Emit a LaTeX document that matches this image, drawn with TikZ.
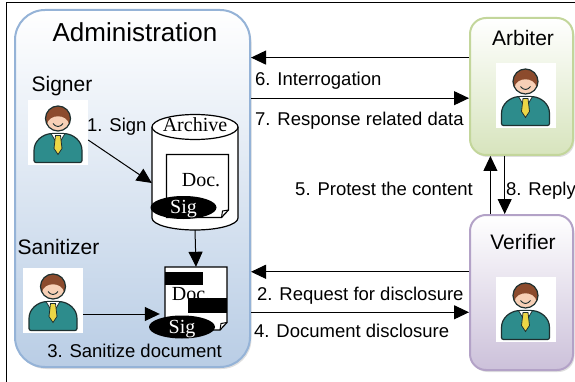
\documentclass[tikz,border=0pt]{standalone}
\usepackage{fontspec}
\setmainfont{Liberation Serif}
\setsansfont{Liberation Sans}
\usepackage{tikz}
\usetikzlibrary{shapes,arrows.meta,positioning,calc,shadows}

\definecolor{adminline}{RGB}{149,179,215}
\definecolor{adminfill}{RGB}{185,205,229}
\definecolor{arbline}{RGB}{195,214,155}
\definecolor{arbfill}{RGB}{215,228,189}
\definecolor{verline}{RGB}{179,162,199}
\definecolor{verfill}{RGB}{204,193,218}
\definecolor{skin}{RGB}{247,208,182}
\definecolor{hair}{RGB}{140,75,45}
\definecolor{suit}{RGB}{45,140,140}
\definecolor{tie}{RGB}{236,214,70}
\definecolor{outline}{RGB}{30,48,48}

\tikzstyle{panel} = [draw, line width=2pt, inner sep=0pt, drop shadow={shadow xshift=1.5pt, shadow yshift=-2pt, opacity=0.25}]
\tikzstyle{adminbox} = [panel, draw=adminline, top color=white, bottom color=adminfill, rounded corners=30pt, minimum width=235pt, minimum height=357pt]
\tikzstyle{arbbox} = [panel, draw=arbline, top color=white, bottom color=arbfill, rounded corners=16pt, minimum width=103pt, minimum height=137pt]
\tikzstyle{verbox} = [panel, draw=verline, top color=white, bottom color=verfill, rounded corners=16pt, minimum width=103pt, minimum height=155pt]
\tikzstyle{icon} = [rectangle, fill=white, minimum width=60pt, minimum height=65pt, inner sep=0pt]
\tikzstyle{pagebox} = [rectangle, minimum width=62pt, minimum height=63pt, inner sep=0pt]
\tikzstyle{sig} = [ellipse, fill=black, text=white, minimum width=66pt, minimum height=23pt, inner sep=0pt, text height=12pt, text depth=0pt, font=\rmfamily\fontsize{20}{20}\selectfont]
\tikzstyle{serif} = [inner sep=0pt, font=\rmfamily\fontsize{20}{22}\selectfont]
\tikzstyle{lbl} = [inner sep=0pt, font=\sffamily\fontsize{18.5}{20}\selectfont]
\tikzstyle{title} = [inner sep=0pt, text height=15.5pt, text depth=4.4pt, font=\sffamily\fontsize{21}{24}\selectfont]
\tikzstyle{bigtitle} = [inner sep=0pt, text height=19.5pt, text depth=5.2pt, font=\sffamily\fontsize{26}{30}\selectfont]
\tikzstyle{flow} = [draw, line width=1pt, -{Triangle[length=15pt, width=14pt]}]

\tikzset{
  % little man with a tie
  person/.pic={
    \filldraw[fill=suit, draw=outline, line width=1.2pt, rounded corners=2pt]
      (-24,30) -- (-24,20) .. controls (-24,8) and (-15,2) .. (-6,1)
      -- (6,1) .. controls (15,2) and (24,8) .. (24,20) -- (24,30) -- cycle;
    \filldraw[fill=white, draw=outline, line width=0.8pt] (-7,1) -- (0,13) -- (7,1) -- cycle;
    \filldraw[fill=tie, draw=outline, line width=0.8pt] (-2.5,3) -- (2.5,3) -- (4,16) -- (0,22) -- (-4,16) -- cycle;
    \fill[skin] (0,-14) circle (12.5);
    \begin{scope}
      \clip (0,-14) circle (12.5);
      \fill[hair] (-14,-8) -- (-14,-28) -- (14,-28) -- (14,-8) -- (11,-8)
        .. controls (10,-19) and (-10,-19) .. (-11,-8) -- cycle;
    \end{scope}
    \draw[outline, line width=1.2pt] (0,-14) circle (12.5);
    \draw[outline, line width=0.9pt] (-5,-9) .. controls (-2,-5) and (2,-5) .. (5,-9);
  },
  % sheet with a folded corner
  page/.pic={
    \filldraw[fill=white, line width=1.2pt] (-31,-31.5) -- (31,-31.5) -- (31,24) -- (24,31.5) -- (-31,31.5) -- cycle;
    \draw[line width=1pt] (24,31.5) -- (25,25) -- (31,24);
  }
}

\begin{document}
\begin{tikzpicture}[x=1pt, y=-1pt]
\useasboundingbox (0,0) rectangle (575,382);
\clip (0,0) rectangle (575,382);
\draw[line width=1pt] (6,3) rectangle (600,400);

% panels =============================
\node[adminbox] (admin) at (132.5,188.5) {};
\node[arbbox] (arbiter) at (521.5,86.5) {};
\node[verbox] (verifier) at (521.5,292.5) {};

\node[bigtitle, below=12.5pt of admin.north, xshift=2.5pt] (admintitle) {Administration};
\node[title, below=12.5pt of arbiter.north, xshift=1.5pt] (arbtitle) {Arbiter};
\node[title, below=19.5pt of verifier.north, xshift=1.5pt] (vertitle) {Verifier};

% people
\node[icon] (signer) at (58,132.5) {};
\pic at (signer) {person};
\node[title, above=3.6pt of signer, xshift=4pt] (signertitle) {Signer};

\node[icon] (sanitizer) at (53,300.5) {};
\pic at (sanitizer) {person};
\node[title, above=8.6pt of sanitizer, xshift=5.5pt] (sanitizertitle) {Sanitizer};

\node[icon] (judge) at (525.5,95.5) {};
\pic at (judge) {person};
\node[icon] (checker) at (525.5,309.5) {};
\pic at (checker) {person};

% archive with the signed document
\node[inner sep=0pt, minimum width=86pt, minimum height=115pt] (archive) at (195,172.5) {};
\filldraw[fill=white, line width=1.2pt] (152,127) -- (152,218)
  arc[start angle=180, end angle=360, x radius=43pt, y radius=12pt] -- (238,127);
\filldraw[fill=white, line width=1.2pt] (195,127) ellipse [x radius=43pt, y radius=12.5pt];
\node[serif, anchor=base] (archivetext) at (195,131.5) {Archive};
\node[pagebox] (signed) at (197.5,186) {};
\pic at (signed) {page};
\node[serif, anchor=base] (signeddoc) at (201,186) {Doc.};
\node[sig] (sigA) at (183.5,207.5) {Sig};

% sanitized document
\node[pagebox] (clean) at (196,298.5) {};
\pic at (clean) {page};
\node[serif, anchor=base] (cleandoc) at (191,300) {Doc.};
\fill (165,272) rectangle (203,285);
\fill (188,298) rectangle (227,313);
\node[sig] (sigB) at (182,327) {Sig};

% edges
\draw[flow] ($(signer.east)+(0,7.5)$) -- ($(archive.west)+(0,10.5)$);
\draw[flow] (archive.south) -- (clean.north);
\draw[flow, shorten >=5pt] ($(sanitizer.east)+(0,13.5)$) coordinate (s3) -- (s3 -| clean.west);

\coordinate (q6) at ($(arbiter.north west)!.292!(arbiter.south west)$);
\coordinate (q7) at ($(arbiter.north west)!.584!(arbiter.south west)$);
\coordinate (q2) at ($(verifier.north west)!.368!(verifier.south west)$);
\coordinate (q4) at ($(verifier.north west)!.626!(verifier.south west)$);
\coordinate (q5) at ($(verifier.north west)!.204!(verifier.north east)$);
\coordinate (q8) at ($(arbiter.south west)!.34!(arbiter.south east)$);

\draw[flow] (q6) -- (q6 -| admin.east);
\draw[flow] (q7 -| admin.east) -- (q7);
\draw[flow] (q2) -- (q2 -| admin.east);
\draw[flow] (q4 -| admin.east) -- (q4);
\draw[flow] (q5) -- (q5 |- arbiter.south);
\draw[flow] (q8) -- (q8 |- verifier.north);

% labels
\node[lbl, anchor=base west] (l1) at (87,132) {1. Sign};
\node[lbl, anchor=base west] (l2) at (257,300) {2. Request for disclosure};
\node[lbl, anchor=base] (l3) at (134.5,357) {3. Sanitize document};
\node[lbl, anchor=base west] (l4) at (254,337) {4. Document disclosure};
\node[lbl, anchor=base east] (l5) at (473,195) {5. Protest the content};
\node[lbl, anchor=base west] (l6) at (255,86) {6. Interrogation};
\node[lbl, anchor=base west] (l7) at (255,126) {7. Response related data};
\node[lbl, anchor=base west] (l8) at (506,195) {8. Reply};

\end{tikzpicture}
\end{document}
